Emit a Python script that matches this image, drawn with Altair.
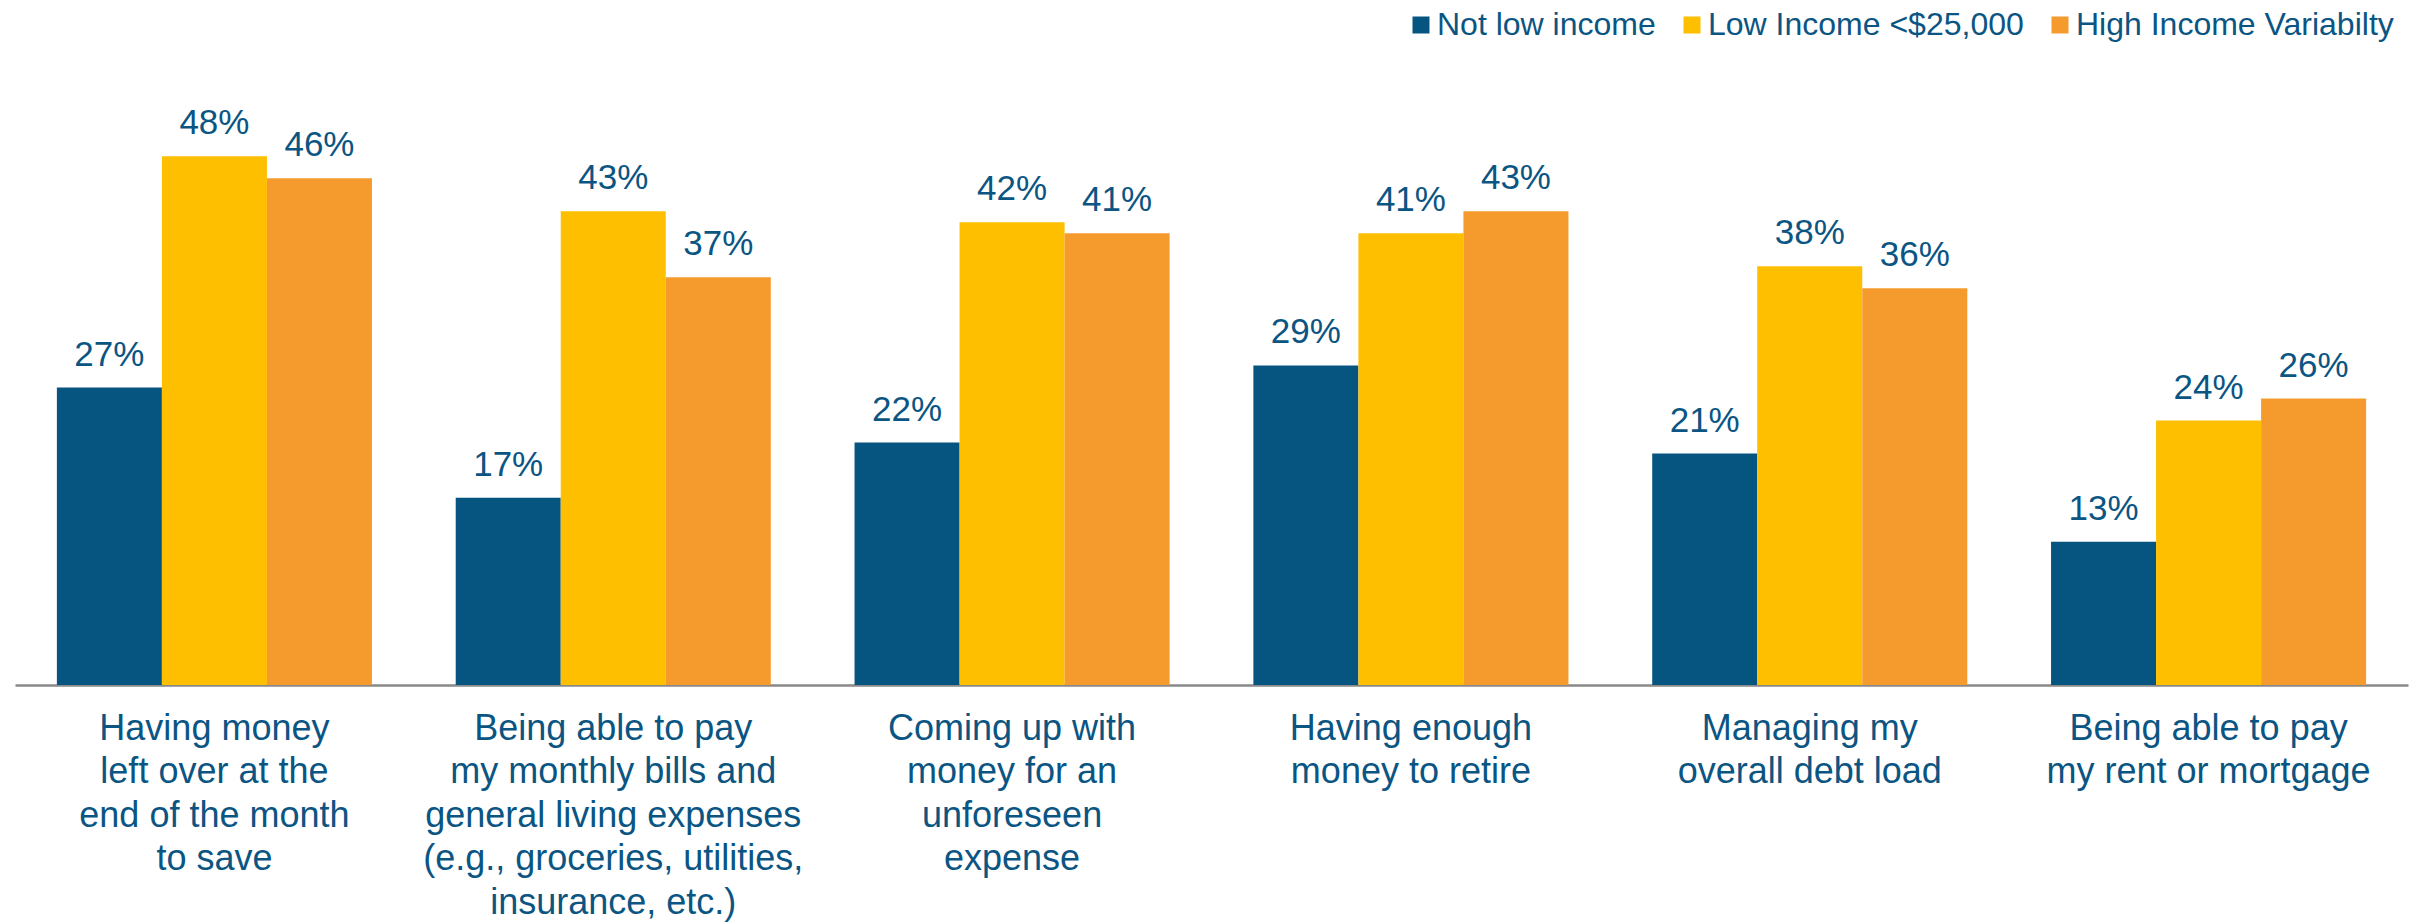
import altair as alt
import pandas as pd

categories = [
    "Having money|left over at the|end of the month|to save",
    "Being able to pay|my monthly bills and|general living expenses|(e.g., groceries, utilities,|insurance, etc.)",
    "Coming up with|money for an|unforeseen|expense",
    "Having enough|money to retire",
    "Managing my|overall debt load",
    "Being able to pay|my rent or mortgage",
]
series = ["Not low income", "Low Income <$25,000", "High Income Variabilty"]
not_low = [27, 17, 22, 29, 21, 13]
low_income = [48, 43, 42, 41, 38, 24]
high_var = [46, 37, 41, 43, 36, 26]
colors = ["#065581", "#FDBF00", "#F59B2D"]
text_color = "#0B5583"

rows = []
for s, vals in zip(series, [not_low, low_income, high_var]):
    for c, v in zip(categories, vals):
        rows.append({"cat": c, "series": s, "value": v, "label": f"{v}%"})
df = pd.DataFrame(rows)

W, H = 2393, 606
FONT = "Liberation Sans"

x = alt.X("cat:N", sort=categories, title=None,
          scale=alt.Scale(paddingInner=0.21, paddingOuter=0.105),
          axis=alt.Axis(labelExpr="split(datum.label, '|')", labelAngle=0,
                        labelFontSize=36, labelFont=FONT, labelColor=text_color,
                        labelLineHeight=43.5, labelPadding=26, labelBaseline="top",
                        ticks=False, domainColor="#898989", domainWidth=2.5,
                        labelLimit=0, grid=False))
xo = alt.XOffset("series:N", sort=series, scale=alt.Scale(paddingInner=0, paddingOuter=0))
y = alt.Y("value:Q", scale=alt.Scale(domain=[0, 55], nice=False, zero=True), axis=None)

bars = alt.Chart(df).mark_bar().encode(
    x=x, xOffset=xo, y=y,
    color=alt.Color("series:N", sort=series,
                    scale=alt.Scale(domain=series, range=colors),
                    legend=alt.Legend(title=None, orient="none", direction="horizontal",
                                      legendX=1390, legendY=-70,
                                      symbolType="square", symbolSize=289,
                                      symbolStrokeWidth=0, symbolOpacity=1,
                                      labelFontSize=32, labelFont=FONT,
                                      labelColor=text_color, labelOffset=0,
                                      columnPadding=20, labelLimit=0)),
)

labels = alt.Chart(df).mark_text(baseline="bottom", dy=-15, fontSize=35,
                                 font=FONT, color=text_color).encode(
    x=alt.X("cat:N", sort=categories), xOffset=xo, y=y, text="label:N"
)

chart = alt.layer(bars, labels).properties(
    width=W, height=H, background="white",
    autosize=alt.AutoSizeParams(type="none"),
    padding={"left": 15, "top": 79, "right": 17, "bottom": 237},
).configure_view(strokeWidth=0, stroke="transparent")

chart.save("out.html", embed_options={"renderer": "svg", "actions": False})
